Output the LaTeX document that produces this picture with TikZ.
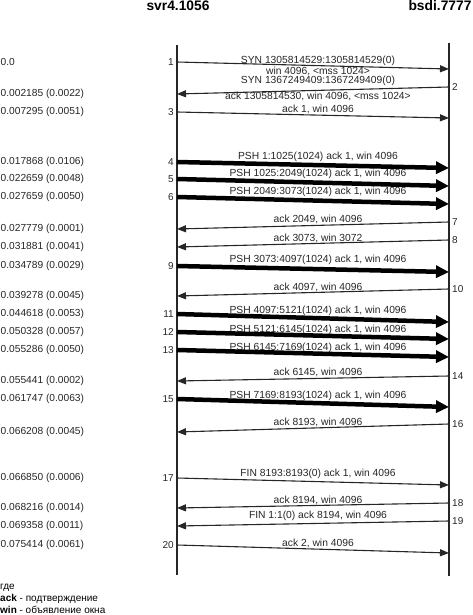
\documentclass[tikz,border=0pt]{standalone}
\usepackage{fontspec}
\setmainfont{Liberation Sans}
\usetikzlibrary{arrows.meta}
\begin{document}
\begin{tikzpicture}[x=1pt,y=-1pt,
  lifeline/.style={line width=1.3pt, draw=black!85},
  thinmsg/.style={line width=1.1pt, draw=black!85, -{Triangle[length=9pt,width=7pt]}},
  thickmsg/.style={line width=4.5pt, draw=black, -{Triangle[length=13pt,width=12pt]}},
  lbl/.style={font=\fontsize{10.3}{12}\selectfont, inner sep=0pt, text=black!85},
  num/.style={font=\fontsize{10}{12}\selectfont, inner sep=0pt, text=black!85},
  lnum/.style={num, anchor=east},
  rnum/.style={num, anchor=west},
  tstamp/.style={font=\fontsize{10.2}{12}\selectfont, inner sep=0pt, anchor=west, text=black!85},
  head/.style={font=\fontsize{13.8}{16}\selectfont\bfseries, inner sep=0pt, anchor=base},
  legend/.style={font=\fontsize{10}{12}\selectfont, inner sep=0pt, anchor=west}]
\useasboundingbox (0,0) rectangle (473,615);

% headers
\node[head] (hA) at (178,11) {svr4.1056};
\node[head] (hB) at (440,11) {bsdi.7777};

% lifelines
\coordinate (Ltop) at (177,45); \coordinate (Lbot) at (177,575);
\coordinate (Rtop) at (449,43); \coordinate (Rbot) at (449,576);
\draw[lifeline] (Ltop) -- (Lbot);
\draw[lifeline] (Rtop) -- (Rbot);

% ---- labels (drawn first, arrows on top)
\node[lbl] (m1a) at (318,61) {SYN 1305814529:1305814529(0)};
\node[lbl] (m1b) at (318,71.5) {win 4096, <mss 1024>};
\node[lbl] (m2a) at (318,81) {SYN 1367249409:1367249409(0)};
\node[lbl] (m2b) at (318,96.5) {ack 1305814530, win 4096, <mss 1024>};
\node[lbl] (m3) at (318,109) {ack 1, win 4096};
\node[lbl] (m4) at (318,157) {PSH 1:1025(1024) ack 1, win 4096};
\node[lbl] (m5) at (318,174) {PSH 1025:2049(1024) ack 1, win 4096};
\node[lbl] (m6) at (318,192) {PSH 2049:3073(1024) ack 1, win 4096};
\node[lbl] (m7) at (318,219) {ack 2049, win 4096};
\node[lbl] (m8) at (318,238) {ack 3073, win 3072};
\node[lbl] (m9) at (318,260) {PSH 3073:4097(1024) ack 1, win 4096};
\node[lbl] (m10) at (318,287) {ack 4097, win 4096};
\node[lbl] (m11) at (318,311) {PSH 4097:5121(1024) ack 1, win 4096};
\node[lbl] (m12) at (318,329.5) {PSH 5121:6145(1024) ack 1, win 4096};
\node[lbl] (m13) at (318,347.5) {PSH 6145:7169(1024) ack 1, win 4096};
\node[lbl] (m14) at (318,372) {ack 6145, win 4096};
\node[lbl] (m15) at (318,395.5) {PSH 7169:8193(1024) ack 1, win 4096};
\node[lbl] (m16) at (318,422) {ack 8193, win 4096};
\node[lbl] (m17) at (318,474) {FIN 8193:8193(0) ack 1, win 4096};
\node[lbl] (m18) at (318,500) {ack 8194, win 4096};
\node[lbl] (m19) at (318,516) {FIN 1:1(0) ack 8194, win 4096};
\node[lbl] (m20) at (318,543) {ack 2, win 4096};

% ---- end points
\coordinate (l1) at (177,62);   \coordinate (r1) at (449,69);
\coordinate (l2) at (177,94);   \coordinate (r2) at (449,87);
\coordinate (l3) at (177,112);  \coordinate (r3) at (449,118);
\coordinate (l4) at (177,162);  \coordinate (r4) at (449,168);
\coordinate (l5) at (177,179);  \coordinate (r5) at (449,186);
\coordinate (l6) at (177,197);  \coordinate (r6) at (449,204);
\coordinate (l7) at (177,229);  \coordinate (r7) at (449,222);
\coordinate (l8) at (177,247);  \coordinate (r8) at (449,240);
\coordinate (l9) at (177,266);  \coordinate (r9) at (449,272);
\coordinate (l10) at (177,296); \coordinate (r10) at (449,289);
\coordinate (l11) at (177,314); \coordinate (r11) at (449,322);
\coordinate (l12) at (177,332); \coordinate (r12) at (449,339);
\coordinate (l13) at (177,350); \coordinate (r13) at (449,357);
\coordinate (l14) at (177,381); \coordinate (r14) at (449,376);
\coordinate (l15) at (177,399); \coordinate (r15) at (449,407);
\coordinate (l16) at (177,432); \coordinate (r16) at (449,424);
\coordinate (l17) at (177,478); \coordinate (r17) at (449,485);
\coordinate (l18) at (177,508); \coordinate (r18) at (449,503);
\coordinate (l19) at (177,526); \coordinate (r19) at (449,521);
\coordinate (l20) at (177,545); \coordinate (r20) at (449,553);

% ---- arrows
\draw[thinmsg] (l1) -- (r1);
\draw[thinmsg] (r2) -- (l2);
\draw[thinmsg] (l3) -- (r3);
\draw[thickmsg] (l4) -- (r4);
\draw[thickmsg] (l5) -- (r5);
\draw[thickmsg] (l6) -- (r6);
\draw[thinmsg] (r7) -- (l7);
\draw[thinmsg] (r8) -- (l8);
\draw[thickmsg] (l9) -- (r9);
\draw[thinmsg] (r10) -- (l10);
\draw[thickmsg] (l11) -- (r11);
\draw[thickmsg] (l12) -- (r12);
\draw[thickmsg] (l13) -- (r13);
\draw[thinmsg] (r14) -- (l14);
\draw[thickmsg] (l15) -- (r15);
\draw[thinmsg] (r16) -- (l16);
\draw[thinmsg] (l17) -- (r17);
\draw[thinmsg] (r18) -- (l18);
\draw[thinmsg] (r19) -- (l19);
\draw[thinmsg] (l20) -- (r20);

% ---- segment numbers
\node[lnum] (n1) at (174,62) {1};
\node[rnum] (n2) at (452,87) {2};
\node[lnum] (n3) at (174,112) {3};
\node[lnum] (n4) at (174,162) {4};
\node[lnum] (n5) at (174,179) {5};
\node[lnum] (n6) at (174,197) {6};
\node[rnum] (n7) at (452,222) {7};
\node[rnum] (n8) at (452,240) {8};
\node[lnum] (n9) at (174,266) {9};
\node[rnum] (n10) at (452,289) {10};
\node[lnum] (n11) at (174,314) {11};
\node[lnum] (n12) at (174,332) {12};
\node[lnum] (n13) at (174,350) {13};
\node[rnum] (n14) at (452,376) {14};
\node[lnum] (n15) at (174,399) {15};
\node[rnum] (n16) at (452,424) {16};
\node[lnum] (n17) at (174,478) {17};
\node[rnum] (n18) at (452,503) {18};
\node[rnum] (n19) at (452,521) {19};
\node[lnum] (n20) at (174,545) {20};

% ---- timestamps
\node[tstamp] (t1) at (0.5,62) {0.0};
\node[tstamp] (t2) at (0.5,94) {0.002185 (0.0022)};
\node[tstamp] (t3) at (0.5,112) {0.007295 (0.0051)};
\node[tstamp] (t4) at (0.5,162) {0.017868 (0.0106)};
\node[tstamp] (t5) at (0.5,179) {0.022659 (0.0048)};
\node[tstamp] (t6) at (0.5,197) {0.027659 (0.0050)};
\node[tstamp] (t7) at (0.5,229) {0.027779 (0.0001)};
\node[tstamp] (t8) at (0.5,247) {0.031881 (0.0041)};
\node[tstamp] (t9) at (0.5,266) {0.034789 (0.0029)};
\node[tstamp] (t10) at (0.5,296) {0.039278 (0.0045)};
\node[tstamp] (t11) at (0.5,314) {0.044618 (0.0053)};
\node[tstamp] (t12) at (0.5,332) {0.050328 (0.0057)};
\node[tstamp] (t13) at (0.5,350) {0.055286 (0.0050)};
\node[tstamp] (t14) at (0.5,381) {0.055441 (0.0002)};
\node[tstamp] (t15) at (0.5,399) {0.061747 (0.0063)};
\node[tstamp] (t16) at (0.5,432) {0.066208 (0.0045)};
\node[tstamp] (t17) at (0.5,478) {0.066850 (0.0006)};
\node[tstamp] (t18) at (0.5,508) {0.068216 (0.0014)};
\node[tstamp] (t19) at (0.5,526) {0.069358 (0.0011)};
\node[tstamp] (t20) at (0.5,545) {0.075414 (0.0061)};

% ---- legend
\node[legend] (g0) at (0,588) {где};
\node[legend] (g1) at (0,599) {\textbf{ack} - подтверждение};
\node[legend] (g2) at (0,610) {\textbf{win} - объявление окна};
\end{tikzpicture}
\end{document}
